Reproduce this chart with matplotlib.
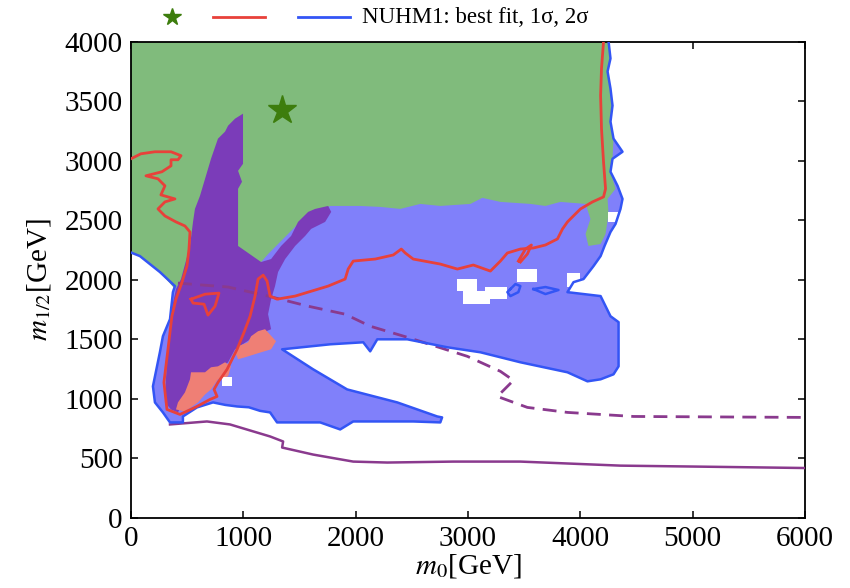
import matplotlib
matplotlib.use('Agg')
import matplotlib.pyplot as plt
from matplotlib.lines import Line2D
import numpy as np

plt.rcParams['font.family'] = 'Liberation Serif'
plt.rcParams['mathtext.fontset'] = 'stix'

# NUHM1 fit in the (m0, m1/2) plane, all values in GeV

# 2 sigma contour (open curve, left axis -> top axis)
sigma2_line = [
    (0, 2230), (80, 2200), (258, 2066), (392, 1948), (374, 1897), (348, 1670),
    (285, 1527), (258, 1392), (196, 1106), (214, 971), (285, 887), (348, 803),
    (463, 803), (463, 853), (588, 929), (731, 971), (840, 950), (945, 937),
    (1050, 930), (1150, 900), (1239, 887), (1301, 803), (1685, 803), (1863, 744),
    (1979, 811), (2513, 811), (2754, 803), (2770, 845), (2727, 853), (2371, 971),
    (1925, 1080), (1622, 1249), (1346, 1417), (1774, 1459), (2068, 1476),
    (2130, 1400), (2193, 1501), (2460, 1501), (2816, 1434), (3111, 1392),
    (3467, 1308), (3886, 1224), (4064, 1148), (4181, 1165), (4296, 1207),
    (4341, 1274), (4341, 1645), (4269, 1695), (4181, 1864), (3886, 1897),
    (3940, 1981), (4029, 2007), (4118, 2116), (4181, 2200), (4216, 2285),
    (4269, 2402), (4314, 2470), (4358, 2596), (4376, 2680), (4332, 2790),
    (4269, 2908), (4287, 3017), (4376, 3076), (4296, 3186), (4269, 3329),
    (4287, 3464), (4269, 3607), (4243, 3750), (4269, 3860), (4252, 4000),
]
sigma2_loops = [
    [(3378, 1923), (3423, 1965), (3467, 1948), (3449, 1897), (3378, 1864),
     (3351, 1897), (3378, 1923)],
    [(3583, 1923), (3690, 1940), (3806, 1915), (3690, 1881), (3583, 1923)],
]

# 1 sigma contour (open curve, left axis -> top axis)
sigma1_line = [
    (0, 3017), (89, 3059), (214, 3076), (357, 3076), (446, 3043), (419, 3009),
    (357, 3009), (357, 2958), (276, 2908), (134, 2874), (241, 2849), (303, 2790),
    (267, 2714), (392, 2680), (303, 2655), (241, 2596), (303, 2537), (401, 2487),
    (481, 2453), (526, 2402), (517, 2259), (499, 2116), (455, 1981), (401, 1838),
    (365, 1695), (330, 1417), (294, 1139), (321, 912), (437, 870), (588, 937),
    (704, 996), (767, 1021), (740, 1080), (775, 1139), (856, 1249), (945, 1417),
    (1007, 1560), (1061, 1695), (1105, 1864), (1132, 2007), (1177, 2040),
    (1212, 1990), (1239, 1864), (1301, 1838), (1462, 1864), (1756, 1948),
    (1907, 2007), (1934, 2091), (1979, 2158), (2175, 2175), (2335, 2209),
    (2407, 2259), (2442, 2226), (2513, 2175), (2754, 2133), (2906, 2091),
    (3048, 2125), (3200, 2074), (3289, 2158), (3351, 2226), (3467, 2259),
    (3583, 2268), (3690, 2293), (3797, 2344), (3842, 2428), (3886, 2487),
    (3957, 2554), (4002, 2596), (4109, 2655), (4207, 2697), (4225, 2765),
    (4207, 2992), (4189, 3270), (4181, 3548), (4189, 3775), (4207, 4000),
]
sigma1_loops = [
    [(535, 1838), (660, 1880), (784, 1889), (749, 1779), (686, 1704),
     (651, 1796), (553, 1805), (535, 1838)],
    [(3449, 2158), (3512, 2259), (3565, 2293), (3529, 2217), (3467, 2150)],
]

# green region (upper part of the plane)
green_region = [
    (0, 4000), (4252, 4000), (4269, 3860), (4243, 3750), (4269, 3607),
    (4287, 3464), (4269, 3329), (4296, 3186), (4287, 3017), (4269, 2908),
    (4314, 2765), (4243, 2680), (4252, 2554), (4225, 2386), (4181, 2301),
    (4073, 2285), (4047, 2386), (4091, 2512), (4047, 2638), (3824, 2655),
    (3690, 2621), (3556, 2638), (3289, 2655), (3128, 2689), (3022, 2638),
    (2754, 2621), (2576, 2638), (2398, 2596), (2219, 2613), (2041, 2621),
    (1863, 2621), (1774, 2621), (1506, 2487), (1221, 2217), (1159, 2150),
    (882, 2049), (446, 1981), (392, 1923), (258, 2066), (80, 2200), (0, 2234),
]

# purple region
purple_region = [
    (927, 3354), (998, 3396), (998, 2975), (954, 2916), (989, 2824), (954, 2765),
    (954, 2285), (1159, 2150), (1248, 2175), (1337, 2285), (1426, 2369),
    (1488, 2487), (1578, 2571), (1640, 2596), (1756, 2621), (1783, 2571),
    (1729, 2487), (1604, 2428), (1551, 2369), (1462, 2285), (1373, 2175),
    (1310, 2066), (1283, 1948), (1248, 1838), (1221, 1712), (1248, 1586),
    (1105, 1527), (927, 1417), (865, 1308), (713, 1190), (570, 1080), (446, 937),
    (419, 887), (357, 912), (303, 971), (312, 1165), (330, 1443), (357, 1729),
    (401, 1923), (446, 2007), (526, 2285), (553, 2487), (570, 2596), (615, 2706),
    (668, 2874), (713, 3017), (775, 3186), (838, 3245), (865, 3295),
]

# salmon patches
salmon_upper = [
    (1132, 1569), (1194, 1586), (1292, 1485), (1248, 1417), (1159, 1392),
    (1016, 1350), (954, 1333), (927, 1400), (954, 1443), (1043, 1476),
    (1070, 1527),
]
salmon_lower = [
    (838, 1308), (891, 1274), (865, 1190), (775, 1165), (713, 1080), (660, 1038),
    (597, 971), (481, 895), (401, 912), (419, 971), (481, 1055), (526, 1165),
    (535, 1224), (660, 1224), (713, 1266), (775, 1274),
]

# uncovered cells inside the 2 sigma region: (m0_lo, m0_hi, m12_lo, m12_hi)
holes = [
    (2906, 3084, 1906, 2007),
    (2959, 3200, 1796, 1906),
    (3155, 3351, 1838, 1940),
    (3440, 3619, 1981, 2091),
    (3880, 4000, 1940, 2060),
    (4243, 4332, 2487, 2571),
    (811, 900, 1106, 1182),
]

# purple exclusion curves
limit_solid = [
    (348, 786), (677, 811), (882, 786), (1239, 685), (1355, 643), (1346, 592),
    (1622, 533), (1979, 474), (2282, 466), (2870, 474), (3467, 474),
    (4358, 440), (5200, 430), (6000, 420),
]
limit_dashed = [
    (419, 1973), (865, 1940), (1221, 1864), (1578, 1779), (1907, 1712),
    (2130, 1611), (2460, 1518), (2995, 1358), (3289, 1232), (3405, 1156),
    (3262, 1021), (3529, 929), (3886, 887), (4474, 853), (6000, 845),
]

best_fit = (1346, 3430)

c_lightblue = '#8080fa'
c_green = '#80bb7c'
c_purple = '#7b3cb9'
c_salmon = '#ef7f75'
c_red = '#e8413a'
c_blue = '#3355f5'
c_line = '#8a3a8e'
c_star = '#3d7d0d'


def xy(pts):
    a = np.array(pts, dtype=float)
    return a[:, 0], a[:, 1]


fig = plt.figure(figsize=(8.5, 5.88), dpi=100)
ax = fig.add_axes([0.154, 0.119, 0.793, 0.810])

# filled regions
x, y = xy(sigma2_line + [(0, 4000)])
ax.fill(x, y, color=c_lightblue, lw=0, zorder=1)
x, y = xy(green_region)
ax.fill(x, y, color=c_green, lw=0, zorder=2)
x, y = xy(purple_region)
ax.fill(x, y, color=c_purple, lw=0, zorder=3)
for patch in (salmon_upper, salmon_lower):
    x, y = xy(patch)
    ax.fill(x, y, color=c_salmon, lw=0, zorder=4)
for x0, x1, y0, y1 in holes:
    ax.fill([x0, x1, x1, x0], [y0, y0, y1, y1], color='white', lw=0, zorder=4)

# exclusion curves
x, y = xy(limit_solid)
ax.plot(x, y, color=c_line, lw=1.8, zorder=5)
x, y = xy(limit_dashed)
ax.plot(x, y, color=c_line, lw=2.0, dashes=(5, 3), zorder=5)

# contours
x, y = xy(sigma2_line)
ax.plot(x, y, color=c_blue, lw=1.8, zorder=6)
for loop in sigma2_loops:
    x, y = xy(loop)
    ax.plot(x, y, color=c_blue, lw=1.8, zorder=6)
x, y = xy(sigma1_line)
ax.plot(x, y, color=c_red, lw=2.0, zorder=7)
for loop in sigma1_loops:
    x, y = xy(loop)
    ax.plot(x, y, color=c_red, lw=2.0, zorder=7)

ax.plot([best_fit[0]], [best_fit[1]], marker='*', color=c_star,
        markersize=21, lw=0, zorder=8)

ax.set_xlim(0, 6000)
ax.set_ylim(0, 4000)
ax.set_xticks(range(0, 6001, 1000))
ax.set_yticks(range(0, 4001, 500))
ax.tick_params(direction='in', top=True, right=True, length=5, width=1.1,
               labelsize=21)
ax.tick_params(axis='x', pad=6)
ax.tick_params(axis='y', pad=6)
for s in ax.spines.values():
    s.set_linewidth(1.3)
ax.set_xlabel(r'$m_0$[GeV]', fontsize=21, labelpad=0)
ax.set_ylabel(r'$m_{1/2}$[GeV]', fontsize=21, labelpad=8)

# key above the frame
ly = 0.971
fig.add_artist(Line2D([0.2024], [ly], marker='*', color=c_star, markersize=13,
                      lw=0, transform=fig.transFigure))
fig.add_artist(Line2D([0.2506, 0.3118], [ly, ly], color=c_red, lw=2,
                      transform=fig.transFigure))
fig.add_artist(Line2D([0.3506, 0.4118], [ly, ly], color=c_blue, lw=2,
                      transform=fig.transFigure))
fig.text(0.426, ly, 'NUHM1: best fit, 1σ, 2σ', va='center', ha='left',
         fontsize=16.5)

fig.savefig('out.png', dpi=100)
